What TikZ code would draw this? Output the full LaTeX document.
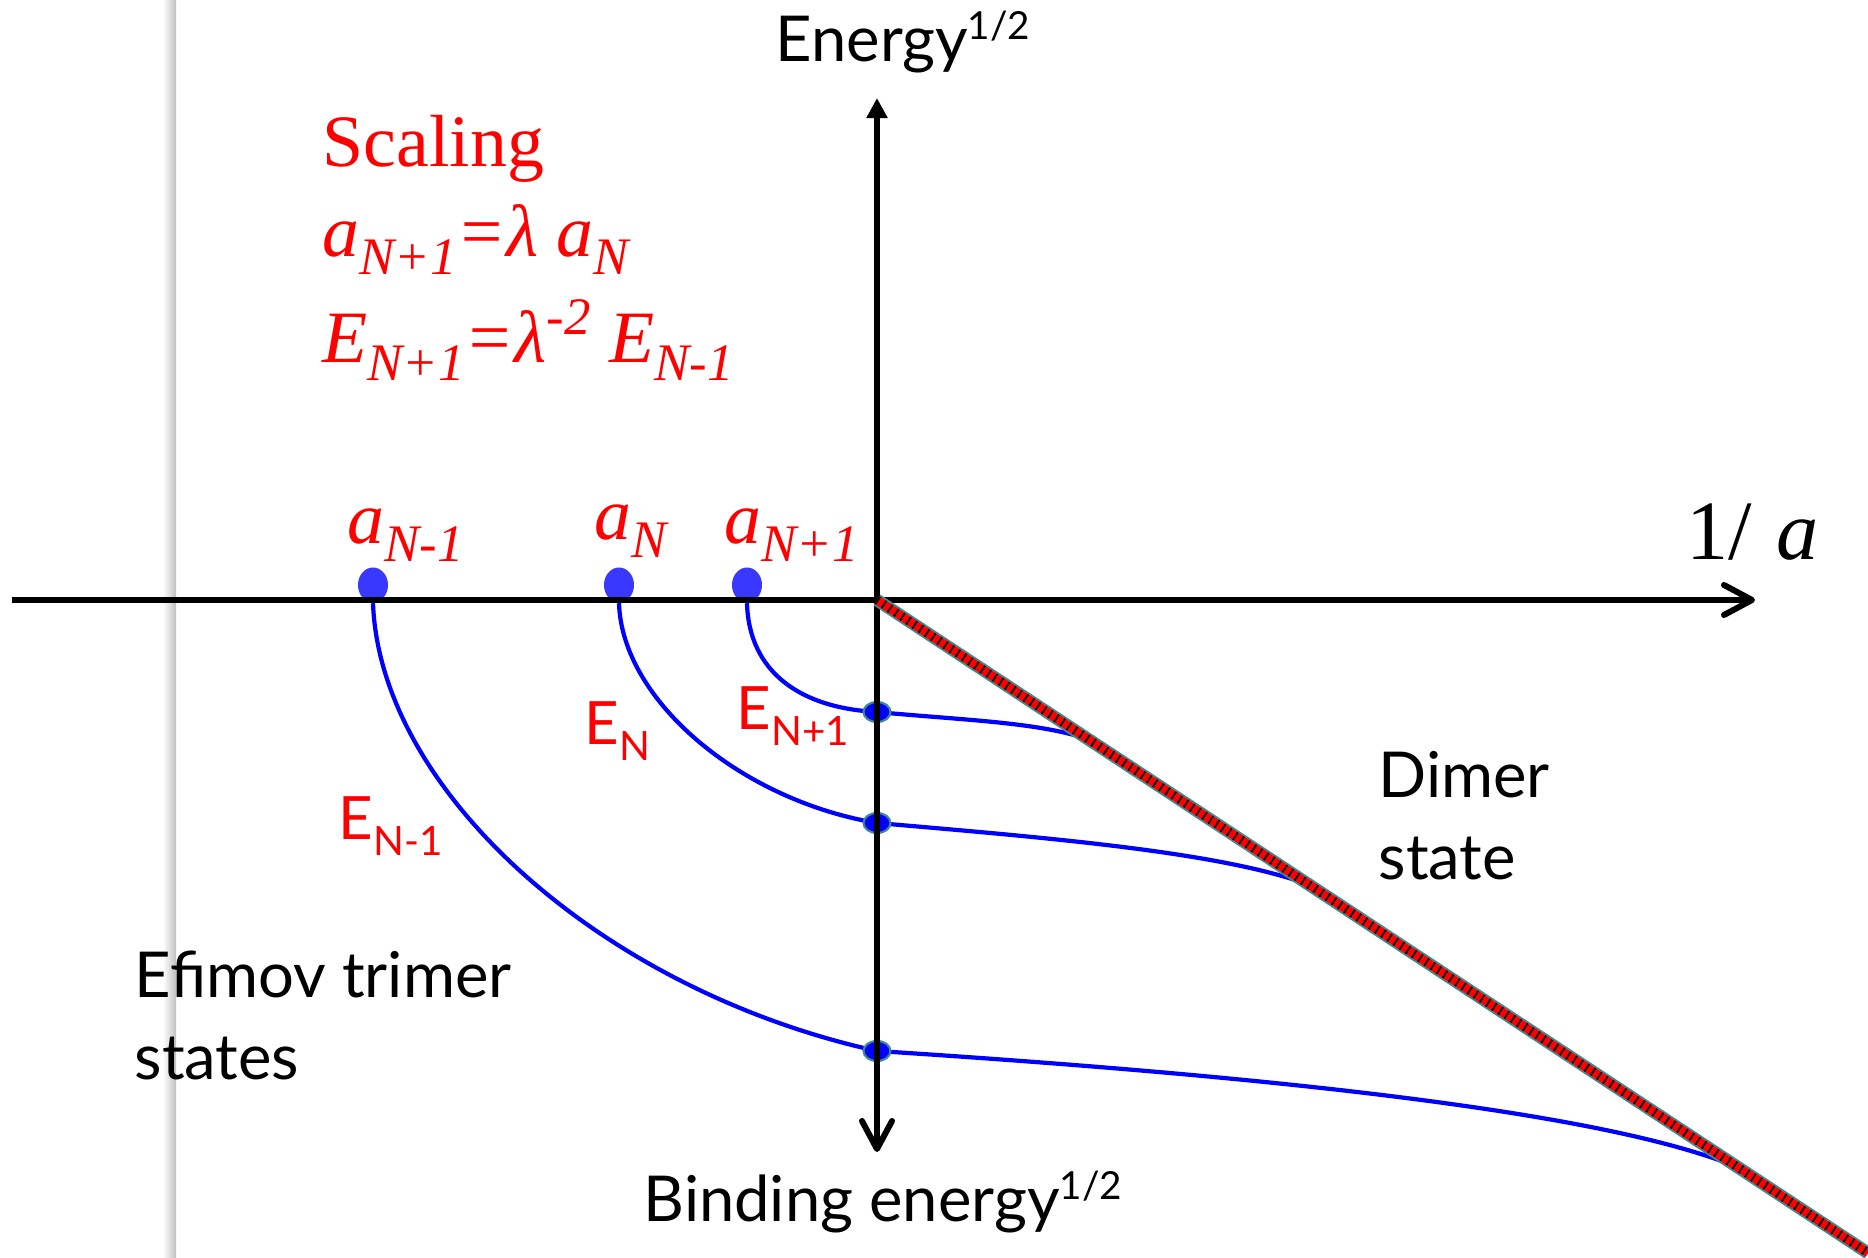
\documentclass[tikz,border=0pt]{standalone}
\usepackage{fontspec}
\setmainfont{Lato}
\newfontfamily\tms{Liberation Serif}
\usepackage{tikz}
\usetikzlibrary{arrows.meta,calc,shapes.geometric}
\definecolor{curveblue}{HTML}{0000FF}
\definecolor{pinblue}{HTML}{3838FF}
\definecolor{dimerteal}{HTML}{3F8A8C}
\definecolor{labelred}{HTML}{FF0000}
\newcommand{\tsub}[1]{\raisebox{-5pt}{\fontsize{15}{15}\selectfont #1}}
\newcommand{\tsup}[1]{\raisebox{8pt}{\fontsize{15}{15}\selectfont #1}}
\newcommand{\gsub}[1]{\raisebox{-4.3pt}{\fontsize{11.5}{11.5}\selectfont #1}}
\newcommand{\gsup}[1]{\raisebox{6.5pt}{\fontsize{11}{11}\selectfont #1}}

\begin{document}
\begin{tikzpicture}[
  x=0.01cm,y=-0.01cm,
  every node/.style={inner sep=0pt},
  sans/.style={font=\fontsize{18}{23.5}\selectfont,align=left,anchor=base west},
  elabel/.style={font=\fontsize{17}{17}\selectfont,text=labelred,anchor=base west},
  serif/.style={font=\fontsize{21}{24}\selectfont\tms\itshape,text=labelred,anchor=base west},
  axis/.style={draw=black,line width=1.7pt},
  level/.style={draw=curveblue,line width=1.2pt},
  pin/.style={ellipse,fill=pinblue,minimum width=0.3cm,minimum height=0.35cm},
  cross/.style={ellipse,fill=curveblue,draw=dimerteal,line width=0.6pt,minimum width=0.27cm,minimum height=0.2cm},
  dimer/.style={draw=dimerteal,line width=3.6pt,
    postaction={draw=red,line width=2.5pt},
    postaction={draw=black,line width=2.5pt,dash pattern=on 0.5pt off 1.6pt}}
]
  \useasboundingbox (0,0) rectangle (1868,1258);
  % axes and dimer line
  \coordinate (o) at (877,600);
  \coordinate (hleft) at (12,600);
  \coordinate (hright) at (1755,600);
  \coordinate (vtop) at (877,98);
  \coordinate (vbot) at (877,1152);
  \coordinate (d) at (1868,1253);
  \coordinate (mP) at ($(o)!0.214!(d)$);
  \coordinate (m0) at ($(o)!0.436!(d)$);
  \coordinate (mM) at ($(o)!0.869!(d)$);
  % slide edge
  \shade[left color=white,right color=black!25] (163,0) rectangle (176,1258);
  % texts
  \node[sans] (energy) at (775,62) {Energy\gsup{1/2}};
  \node[sans] (binding) at (643,1222) {Binding energy\gsup{1/2}};
  \node[sans] (dimerlbl) at (1378,880) {Dimer\\state};
  \node[sans] (efimov) at (134,1080) {Efimov trimer\\states};
  \node[serif,font=\fontsize{24}{24}\selectfont\tms,text=black] (inva) at (1686,560) {1/\hspace{7pt}\itshape a};
  \node[serif,font=\fontsize{21}{24}\selectfont\tms] (scaling) at (322,167) {Scaling};
  \node[serif] (ruleA) at (322,257) {a\tsub{N+1}=λ a\tsub{N}};
  \node[serif] (ruleE) at (322,363) {E\tsub{N+1}=λ\tsup{-2} E\tsub{N-1}};
  \node[serif] (laM) at (347,544) {a\tsub{N-1}};
  \node[serif] (la0) at (594,540) {a\tsub{N}};
  \node[serif] (laP) at (724,544) {a\tsub{N+1}};
  \node[elabel] (lEP) at (736,730) {E\gsub{N+1}};
  \node[elabel] (lE0) at (584,745) {E\gsub{N}};
  \node[elabel] (lEM) at (338,840) {E\gsub{N-1}};
  % trimer levels
  \node[pin] (aM) at (373,585) {};
  \node[pin] (a0) at (619,585) {};
  \node[pin] (aP) at (747,585) {};
  \draw[level] (aP.south) .. controls (749,672) and (800,708) .. (877,712)
    .. controls (960,720) and (1040,722) .. (mP);
  \draw[level] (a0.south) .. controls (622,700) and (740,800) .. (877,823)
    .. controls (1050,838) and (1220,852) .. (m0);
  \draw[level] (aM.south) .. controls (380,790) and (600,990) .. (877,1051)
    .. controls (1250,1075) and (1600,1110) .. (mM);
  \node[cross] (cP) at (877,712) {};
  \node[cross] (c0) at (877,823) {};
  \node[cross] (cM) at (877,1051) {};
  \draw[axis,-{Straight Barb[length=0.28cm,width=0.3cm,round]}] (hleft) -- (hright);
  \draw[axis,{Straight Barb[length=0.28cm,width=0.3cm,round]}-{Triangle[length=0.2cm,width=0.2cm]}] (vbot) -- (vtop);
  \draw[dimer] (o) -- (d);
\end{tikzpicture}
\end{document}
